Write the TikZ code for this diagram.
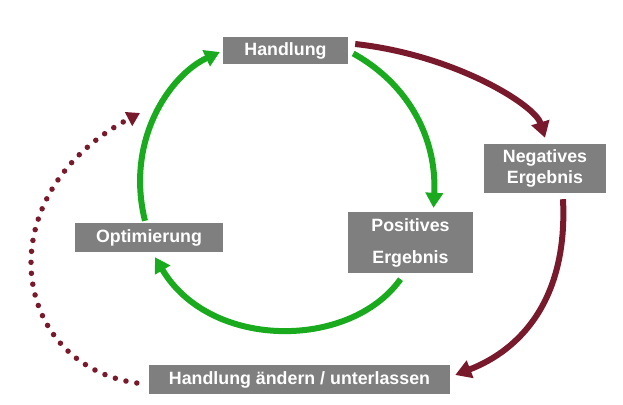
\documentclass[tikz,border=0pt]{standalone}
\usepackage{fontspec}
\setmainfont{Liberation Sans}
\usetikzlibrary{arrows.meta, positioning}
\definecolor{boxgray}{RGB}{127,127,127}
\definecolor{cyclegreen}{RGB}{25,170,30}
\definecolor{failred}{RGB}{120,26,44}

\begin{document}
\begin{tikzpicture}[x=1pt,y=-1pt,
 box node/.style={fill=boxgray, text=white, inner sep=0pt, align=center,
   font=\bfseries\fontsize{17.8}{21}\selectfont},
 green arrow/.style={draw=cyclegreen, line width=6pt, -{Triangle[length=15pt,width=17pt]}},
 red arrow/.style={draw=failred, line width=6pt, -{Triangle[length=16pt,width=18pt]}},
 red dots/.style={draw=failred, line width=5.5pt, line cap=round,
   dash pattern=on 0pt off 11pt, -{Triangle[length=13pt,width=15pt]}}]
  \useasboundingbox (0,0) rectangle (623,404);

  \node[box node, minimum width=125pt, minimum height=27pt] (1) at (285.5,50.5) {Handlung};
  \node[box node, minimum width=122pt, minimum height=49pt] (2) at (545,168.5) {Negatives\\Ergebnis};
  \node[box node, minimum width=125pt, minimum height=61pt,
    font=\bfseries\fontsize{17.8}{32}\selectfont] (3) at (410.5,242.5) {Positives\\Ergebnis};
  \node[box node, minimum width=148pt, minimum height=29pt] (4) at (149,237.5) {Optimierung};
  \node[box node, minimum width=301pt, minimum height=29pt] (5) at (299.5,379.5) {Handlung ändern / unterlassen};
  \coordinate (6) at (140,113);

  % green cycle
  \path[green arrow] ([xshift=5pt,yshift=-3pt]1.east)
    .. controls (410,85) and (437,140) .. ([xshift=23pt,yshift=4pt]3.north);
  \path[green arrow] ([xshift=-10pt,yshift=-6pt]3.south)
    .. controls (350,350) and (210,350) .. ([xshift=6pt,yshift=-5pt]4.south);
  \path[green arrow] ([xshift=-4pt,yshift=2pt]4.north)
    .. controls (125,140) and (170,75) .. ([xshift=-3pt,yshift=-1.5pt]1.west);

  % negative path
  \path[red arrow] ([xshift=7pt,yshift=6.5pt]1.east)
    .. controls (455,55) and (535,105) .. ([yshift=6pt]2.north);
  \path[red arrow] ([xshift=18pt,yshift=-6pt]2.south)
    .. controls (568,300) and (520,350) .. ([xshift=5pt,yshift=4.5pt]5.east);
  \path[red dots] ([xshift=-12pt,yshift=-3.5pt]5.west)
    .. controls (10,365) and (-15,195) .. (6);
\end{tikzpicture}
\end{document}
